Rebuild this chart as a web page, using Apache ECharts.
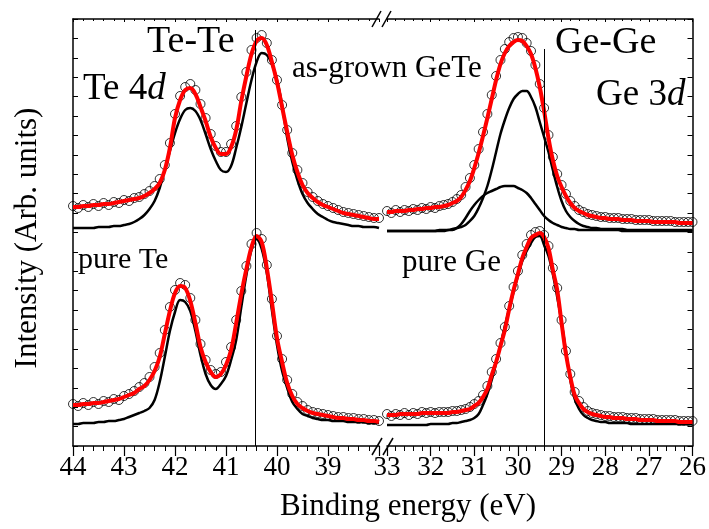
<!DOCTYPE html>
<html>
<head>
<meta charset="utf-8">
<script src="https://cdn.jsdelivr.net/npm/echarts@6/dist/echarts.min.js"></script>
<style>html,body{margin:0;padding:0;background:#fff}#c{width:709px;height:529px}</style>
</head>
<body>
<div id="c"></div>
<script>
// Binding energies (eV)
const leftE = [44.0,43.9,43.8,43.7,43.6,43.5,43.4,43.3,43.2,43.1,43.0,42.9,42.8,42.7,42.6,42.5,42.4,42.3,42.2,42.1,42.0,41.9,41.8,41.7,41.6,41.5,41.4,41.3,41.2,41.1,41.0,40.9,40.8,40.7,40.6,40.5,40.4,40.3,40.2,40.1,40.0,39.9,39.8,39.7,39.6,39.5,39.4,39.3,39.2,39.1,39.0,38.9,38.8,38.7,38.6,38.5,38.4,38.3,38.2,38.1,38.0];
const rightE = [33.0,32.9,32.8,32.7,32.6,32.5,32.4,32.3,32.2,32.1,32.0,31.9,31.8,31.7,31.6,31.5,31.4,31.3,31.2,31.1,31.0,30.9,30.8,30.7,30.6,30.5,30.4,30.3,30.2,30.1,30.0,29.9,29.8,29.7,29.6,29.5,29.4,29.3,29.2,29.1,29.0,28.9,28.8,28.7,28.6,28.5,28.4,28.3,28.2,28.1,28.0,27.9,27.8,27.7,27.6,27.5,27.4,27.3,27.2,27.1,27.0,26.9,26.8,26.7,26.6,26.5,26.4,26.3,26.2,26.1,26.0];

// Te 4d, as-grown GeTe (upper)
const teGrownData = [240,238,241,239,242,240,243,241,244,243,246,245,248,249,252,255,260,267,281,303,332,350,359,362,356,342,328,312,300,294,294,302,320,349,374,396,408,411,403,386,366,341,316,293,276,263,254,249,245,242,240,238,236,234,233,232,231,230,229,228,228];
const teGrownFit = [239,239,240,240,241,241,242,242,243,244,245,246,247,248,250,253,257,263,276,298,328,346,356,358,352,339,325,309,298,292,292,299,316,345,370,392,405,408,401,384,364,339,314,291,274,261,253,248,244,241,239,237,235,233,232,231,230,229,228,227,227];
const teGrownComp = [218,218,218,218,218,219,219,219,220,220,221,222,224,227,231,237,245,258,276,295,313,327,336,338,335,326,312,297,285,276,274,280,298,319,343,366,384,393,391,382,366,341,308,284,266,252,243,237,232,229,226,224,223,222,221,220,220,219,219,219,218];

// Te 4d, pure Te (lower)
const tePureData = [42,40,43,41,44,42,45,44,47,46,50,52,55,59,63,69,79,93,116,139,156,163,161,148,126,102,86,76,72,74,84,99,126,155,180,202,213,207,181,147,110,87,66,52,44,40,36,34,33,32,31,30,29,29,28,28,27,27,26,26,25];
const tePureFit = [41,41,42,42,43,43,44,45,46,47,49,51,53,57,60,66,75,89,112,135,153,160,158,145,123,99,84,74,69,72,81,96,123,152,177,199,210,204,178,144,108,84,63,50,42,38,35,33,32,31,30,29,28,28,27,27,26,26,25,25,24];
const tePureComp = [22,22,23,23,23,24,24,25,25,26,27,29,31,33,35,38,46,64,89,115,134,146,144,135,115,91,72,61,57,62,70,86,106,139,171,196,207,197,173,136,101,75,58,44,37,32,30,28,27,26,26,25,25,25,24,24,24,24,23,23,23];

// Ge 3d, as-grown GeTe (upper)
const geGrownData = [235,233,236,234,236,235,237,236,238,237,239,238,240,241,242,244,247,251,259,268,281,297,314,332,351,370,386,397,404,408,409,408,403,395,381,362,338,311,289,272,261,252,245,240,236,234,232,231,230,229,229,228,228,228,227,227,227,226,226,226,226,225,225,225,225,225,224,224,224,224,224];
const geGrownFit = [234,234,235,235,235,236,236,237,237,238,238,239,239,240,241,243,245,249,256,265,278,293,310,328,347,366,382,393,400,404,406,405,400,392,378,359,335,308,286,270,259,250,243,238,235,233,231,230,229,228,228,227,227,227,226,226,226,225,225,225,225,224,224,224,224,224,224,223,223,223,223];
const geGrownCompGeGe = [215,215,215,215,215,215,215,215,215,215,215,215,216,216,216,217,218,219,221,225,230,238,248,260,276,294,312,326,338,347,352,355,355,349,339,324,309,294,276,259,245,235,229,225,222,220,219,218,218,217,217,217,217,217,217,216,216,216,216,216,216,216,216,216,216,216,216,216,216,216,216];
const geGrownCompGeTe = [215,215,215,215,215,215,215,215,215,215,215,215,215,215,216,216,218,222,228,235,241,246,250,253,255,257,259,260,260,260,258,256,253,248,242,236,230,226,223,221,219,218,217,217,216,216,216,216,216,216,216,216,216,216,215,215,215,215,215,215,215,215,215,215,215,215,215,215,215,215,215];

// Ge 3d, pure Ge (lower)
const gePureData = [32,30,32,31,33,31,33,32,34,33,34,33,34,34,34,35,35,36,37,39,42,45,51,60,74,87,103,119,140,159,175,191,202,211,214,215,211,200,178,158,126,95,72,54,45,39,35,33,32,31,30,30,29,29,29,28,28,28,27,27,27,27,26,26,26,26,26,25,25,25,25];
const gePureFit = [31,31,31,32,32,32,32,32,33,33,33,33,33,33,33,34,34,35,36,37,40,43,49,57,71,84,100,116,137,156,172,188,199,208,211,213,209,198,176,156,123,92,69,51,43,37,34,32,31,30,29,29,28,28,28,27,27,27,26,26,26,26,25,25,25,25,25,24,24,24,24];
const gePureComp = [21,21,21,21,21,21,21,21,21,21,22,22,22,22,22,23,23,24,25,26,28,32,41,52,66,83,101,120,137,154,170,185,195,203,209,210,201,190,172,149,124,95,66,47,37,31,28,26,25,24,24,23,23,23,23,23,22,22,22,22,22,22,22,22,22,22,22,22,22,22,22];

// Reference lines: [energy, top intensity]
const teTeLine = [40.42, 416];
const geGeLine = [29.4, 397];

// Tick labels
const leftTicks = [44,43,42,41,40,39];
const rightTicks = [33,32,31,30,29,28,27,26];

const FONT = '"Liberation Serif","Times New Roman",serif';
const pairs = (E, v) => E.map((e, i) => [e, v[i]]);

const circles = (xi, E, v) => ({
  type: 'scatter', xAxisIndex: xi, yAxisIndex: xi, data: pairs(E, v),
  symbol: 'circle', symbolSize: 9, silent: true, z: 2,
  itemStyle: { color: 'rgba(0,0,0,0)', borderColor: '#000', borderWidth: 1 }
});
const curve = (xi, E, v, color, width, z, extra) => Object.assign({
  type: 'line', xAxisIndex: xi, yAxisIndex: xi, data: pairs(E, v),
  showSymbol: false, smooth: 0.35, silent: true, z: z,
  lineStyle: { color: color, width: width }
}, extra || {});
const vline = (l) => ({
  silent: true, symbol: 'none', label: { show: false },
  lineStyle: { color: '#000', width: 1, type: 'solid' },
  data: [[{ coord: [l[0], 0] }, { coord: [l[0], l[1]] }]]
});

const YMAX = 427;
const yAx = (gi, pos) => ({
  type: 'value', gridIndex: gi, position: pos, min: 0, max: YMAX, interval: YMAX / 22,
  axisLine: { show: true, lineStyle: { color: '#000', width: 1.5 } },
  axisTick: { show: true, inside: true, length: 5, lineStyle: { color: '#000', width: 1 } },
  axisLabel: { show: false }, splitLine: { show: false }
});
const xBottom = (gi, min, max, ticks) => ({
  type: 'value', gridIndex: gi, position: 'bottom', min: min, max: max, inverse: true, interval: 1,
  axisLine: { show: true, lineStyle: { color: '#000', width: 1.5 } },
  axisTick: { show: true, inside: false, length: 10, lineStyle: { color: '#000', width: 1.2 } },
  minorTick: { show: true, splitNumber: 5, length: 5, lineStyle: { color: '#000', width: 1 } },
  axisLabel: { show: true, margin: 8, color: '#000', fontFamily: FONT, fontSize: 27,
    formatter: v => ticks.indexOf(Math.round(v)) >= 0 ? String(Math.round(v)) : '' },
  splitLine: { show: false }
});
const xTop = (gi, min, max) => ({
  type: 'value', gridIndex: gi, position: 'top', min: min, max: max, inverse: true, interval: 1,
  axisLine: { show: true, lineStyle: { color: '#000', width: 1.5 } },
  axisTick: { show: true, inside: true, length: 3, lineStyle: { color: '#000', width: 1 } },
  minorTick: { show: true, splitNumber: 5, length: 2, lineStyle: { color: '#000', width: 1 } },
  axisLabel: { show: false }, splitLine: { show: false }
});

const txt = (x, y, text, size, rich) => ({
  type: 'text', x: x, y: y, silent: true, z: 100,
  style: { text: text, fill: '#000', font: size + 'px ' + FONT, textAlign: 'left', textVerticalAlign: 'middle', rich: rich }
});
const italicRich = (size) => ({
  n: { fontFamily: FONT, fontSize: size, color: '#000' },
  i: { fontFamily: FONT, fontSize: size, fontStyle: 'italic', color: '#000' }
});
const slash = (x1, y1, x2, y2) => ({
  type: 'line', silent: true, z: 100,
  shape: { x1: x1, y1: y1, x2: x2, y2: y2 }, style: { stroke: '#000', lineWidth: 1.5 }
});

const chart = echarts.init(document.getElementById('c'), null, { renderer: 'canvas' });
chart.setOption({
  backgroundColor: '#fff',
  animation: false,
  grid: [
    { left: 73, top: 19, width: 306, height: 427 },
    { left: 387, top: 19, width: 306, height: 427 }
  ],
  xAxis: [
    xBottom(0, 38, 44, leftTicks),
    xBottom(1, 26, 33, rightTicks),
    xTop(0, 38, 44),
    xTop(1, 26, 33)
  ],
  yAxis: [ yAx(0, 'left'), yAx(1, 'right') ],
  series: [
    circles(0, leftE, teGrownData),
    circles(0, leftE, tePureData),
    circles(1, rightE, geGrownData),
    circles(1, rightE, gePureData),
    curve(0, leftE, teGrownComp, '#000', 2.5, 3),
    curve(0, leftE, tePureComp, '#000', 2.5, 3, { markLine: vline(teTeLine) }),
    curve(1, rightE, geGrownCompGeGe, '#000', 2.5, 3),
    curve(1, rightE, geGrownCompGeTe, '#000', 2.5, 3),
    curve(1, rightE, gePureComp, '#000', 2.5, 3, { markLine: vline(geGeLine) }),
    curve(0, leftE, teGrownFit, '#ff0000', 4, 4),
    curve(0, leftE, tePureFit, '#ff0000', 4, 4),
    curve(1, rightE, geGrownFit, '#ff0000', 4, 4),
    curve(1, rightE, gePureFit, '#ff0000', 4, 4)
  ],
  graphic: [
    txt(147, 42, 'Te-Te', 38),
    txt(83, 89, '{n|Te 4}{i|d}', 37, italicRich(37)),
    txt(292, 69, 'as-grown GeTe', 31),
    txt(555, 43, 'Ge-Ge', 38),
    txt(596, 95, '{n|Ge 3}{i|d}', 37, italicRich(37)),
    txt(78, 260, 'pure Te', 30),
    txt(402, 263, 'pure Ge', 31),
    { type: 'text', x: 408, y: 507, silent: true,
      style: { text: 'Binding energy (eV)', fill: '#000', font: '31px ' + FONT, textAlign: 'center', textVerticalAlign: 'middle' } },
    { type: 'text', x: 28, y: 238, rotation: Math.PI / 2, silent: true,
      style: { text: 'Intensity (Arb. units)', fill: '#000', font: '31px ' + FONT, textAlign: 'center', textVerticalAlign: 'middle' } },
    slash(372, 27, 381, 11), slash(382, 27, 391, 11),
    slash(372, 455, 382, 438), slash(383, 455, 393, 438)
  ]
});
</script>
</body>
</html>
